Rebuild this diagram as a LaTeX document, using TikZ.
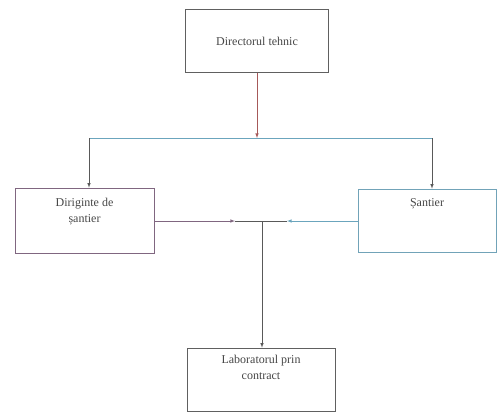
\documentclass[tikz,border=0pt]{standalone}
\usepackage{fontspec}
\setmainfont{Liberation Serif}
\usetikzlibrary{arrows}

\begin{document}
\begin{tikzpicture}[x=1pt,y=-1pt,>=latex,
        box/.style={draw=gray!75!black, line width=0.7pt, inner sep=0pt},
        txt/.style={text=gray!55!black, align=center, font=\fontsize{12}{16}\selectfont},
        conn/.style={draw=gray!70!black, line width=0.6pt}]
        \useasboundingbox (0,0) rectangle (497,413);
        % boxes
        \node [box, minimum width=143, minimum height=63] (dir) at (257,41) {};
        \node [box, draw=violet!20!gray, minimum width=139, minimum height=65] (dirig) at (84.5,220.5) {};
        \node [box, draw=cyan!40!gray, minimum width=138, minimum height=63] (santier) at (427,220.5) {};
        \node [box, minimum width=148, minimum height=63] (lab) at (261,379.5) {};
        \node [txt] (dirtxt) at (dir.center) {Directorul tehnic};
        \node [txt] (dirigtxt) at (84.5,212) {Diriginte de\\șantier};
        \node [txt] (santiertxt) at (427,204) {Șantier};
        \node [txt] (labtxt) at (261,367) {Laboratorul prin\\contract};
        % bus
        \coordinate (busL) at (89,138);
        \coordinate (busR) at (432,138);
        \coordinate (busM) at (dir.south |- busL);
        \draw [conn, draw=red!30!gray, ->] (dir.south) -- (busM);
        \draw [conn, draw=cyan!45!gray] (busL) -- (busR);
        \draw [conn, ->] (busL) -- (busL |- dirig.north);
        \draw [conn, ->] (busR) -- (busR |- santier.north);
        % middle junction
        \coordinate (jL) at (235,221);
        \coordinate (jR) at (287,221);
        \coordinate (jM) at (262,221);
        \draw [conn, draw=violet!20!gray, ->] (dirig.east |- jL) -- (jL);
        \draw [conn, draw=cyan!45!gray, ->] (santier.west |- jR) -- (jR);
        \draw [conn] (jL) -- (jR);
        \draw [conn, ->] (jM) -- (jM |- lab.north);
\end{tikzpicture}
\end{document}
